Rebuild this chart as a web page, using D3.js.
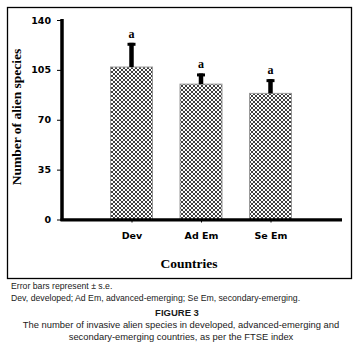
<!DOCTYPE html>
<html><head><meta charset="utf-8">
<script src="https://cdn.jsdelivr.net/npm/d3@7"></script>
<style>body{margin:0;background:#fff}svg{display:block}</style>
</head><body>
<script>
const categories = ["Dev", "Ad Em", "Se Em"];
const values = [107, 95, 88.5];
const errors = [17, 7.5, 10];
const letters = ["a", "a", "a"];
const yTicks = [0, 35, 70, 105, 140];

const W = 355, H = 349;
const svg = d3.select("body").append("svg").attr("width", W).attr("height", H);

const defs = svg.append("defs");
const pat = defs.append("pattern").attr("id", "hatch").attr("patternUnits", "userSpaceOnUse")
  .attr("width", 4).attr("height", 4);
pat.append("rect").attr("width", 4).attr("height", 4).attr("fill", "#fff");
pat.append("path").attr("d", "M0,0 L4,4 M4,0 L0,4 M-1,3 L1,5 M3,-1 L5,1 M-1,1 L1,-1 M3,5 L5,3")
  .attr("stroke", "#2a2a2a").attr("stroke-width", 0.9).attr("fill", "none");

// frame
svg.append("rect").attr("x", 7.5).attr("y", 7.5).attr("width", 344).attr("height", 271)
  .attr("fill", "none").attr("stroke", "#000").attr("stroke-width", 1.3);

const x = d3.scalePoint().domain(categories).range([62, 340]).padding(1);
const y = d3.scaleLinear().domain([0, 140]).range([219.5, 20]);
const bw = 42;

// bars
svg.selectAll("rect.bar").data(categories).join("rect").attr("class", "bar")
  .attr("x", d => x(d) - bw / 2).attr("width", bw)
  .attr("y", (d, i) => y(values[i])).attr("height", (d, i) => y(0) - y(values[i]))
  .attr("fill", "url(#hatch)").attr("stroke", "#999").attr("stroke-width", 1);

// error bars
const eg = svg.selectAll("g.err").data(categories).join("g").attr("class", "err");
eg.append("line").attr("x1", d => x(d)).attr("x2", d => x(d))
  .attr("y1", (d, i) => y(values[i])).attr("y2", (d, i) => y(values[i] + errors[i]))
  .attr("stroke", "#000").attr("stroke-width", 4.5);
eg.append("line").attr("x1", d => x(d) - 4).attr("x2", d => x(d) + 4)
  .attr("y1", (d, i) => y(values[i] + errors[i]) + 1.5).attr("y2", (d, i) => y(values[i] + errors[i]) + 1.5)
  .attr("stroke", "#000").attr("stroke-width", 3);
eg.append("text").attr("x", d => x(d)).attr("y", (d, i) => y(values[i] + errors[i]) - 5)
  .attr("text-anchor", "middle").attr("font-family", "Liberation Serif").attr("font-weight", "bold")
  .attr("font-size", 12).attr("fill", "#000").text((d, i) => letters[i]);

// y axis
const yAxis = svg.append("g").attr("transform", "translate(62,0)")
  .call(d3.axisLeft(y).tickValues(yTicks).tickSize(5).tickPadding(6));
yAxis.select(".domain").remove();
yAxis.selectAll("text").attr("font-family", "DejaVu Sans").attr("font-weight", "bold").attr("font-size", 9.5).attr("fill", "#000");
svg.append("line").attr("x1", 62).attr("x2", 62).attr("y1", 19).attr("y2", 221)
  .attr("stroke", "#000").attr("stroke-width", 3.5);

// x axis
const xAxis = svg.append("g").attr("transform", "translate(0,219.5)")
  .call(d3.axisBottom(x).tickSize(3).tickPadding(10));
xAxis.select(".domain").remove();
xAxis.selectAll("text").attr("font-family", "DejaVu Sans").attr("font-weight", "bold").attr("font-size", 9.5).attr("fill", "#000");
svg.append("line").attr("x1", 60.5).attr("x2", 342).attr("y1", 219.8).attr("y2", 219.8)
  .attr("stroke", "#000").attr("stroke-width", 3.2);

// axis titles
svg.append("text").attr("x", 189).attr("y", 268).attr("text-anchor", "middle")
  .attr("font-family", "Liberation Serif").attr("font-weight", "bold").attr("font-size", 13.5).text("Countries");
svg.append("text").attr("transform", "translate(21,117) rotate(-90)").attr("text-anchor", "middle")
  .attr("font-family", "Liberation Serif").attr("font-weight", "bold").attr("font-size", 13.5).text("Number of alien species");

// notes
const note = (t, xx, yy, opts = {}) => svg.append("text").attr("x", xx).attr("y", yy)
  .attr("font-family", "Liberation Sans").attr("font-size", opts.size || 8.7)
  .attr("font-weight", opts.bold ? "bold" : "normal").attr("text-anchor", opts.anchor || "start")
  .attr("fill", "#1a1a1a").text(t);
note("Error bars represent \u00b1 s.e.", 11, 289);
note("Dev, developed; Ad Em, advanced-emerging; Se Em, secondary-emerging.", 11, 300.5);
note("FIGURE 3", 177, 316, {bold: true, anchor: "middle", size: 9.5});
note("The number of invasive alien species in developed, advanced-emerging and", 181, 328, {anchor: "middle", size: 9.4});
note("secondary-emerging countries, as per the FTSE index", 181, 340, {anchor: "middle", size: 9.4});
</script>
</body></html>
